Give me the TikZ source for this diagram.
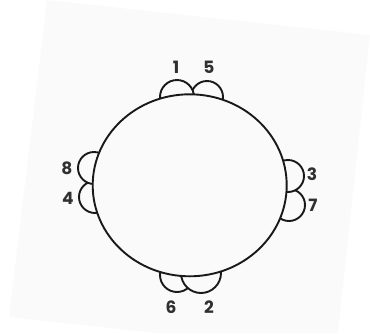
\documentclass[tikz,border=0pt]{standalone}
\usepackage{fontspec}
\setmainfont{Poppins}
\usepackage{tikz}
\usetikzlibrary{positioning, shapes.geometric}
\definecolor{paper}{RGB}{250,250,250}
\definecolor{ink}{RGB}{25,25,25}

\begin{document}
\begin{tikzpicture}[x=1pt, y=-1pt,
			lobe/.style={circle, draw=ink, fill=paper, line width=1.9pt, inner sep=0pt},
			wheel/.style={ellipse, draw=ink, fill=paper, line width=1.9pt, inner sep=0pt, minimum width=194pt, minimum height=182pt},
			num/.style={font=\fontsize{17}{19}\selectfont\bfseries, text=ink!90, inner sep=0pt},
			]
			\useasboundingbox (0,0) rectangle (370,333);
			% scanned sheet
			\fill[paper] (47,0) -- (370,35) -- (338,333) -- (155,333) -- (9,317) -- cycle;
			% lobes behind
			\node[lobe, minimum size=32pt] (lobe5) at (207,97) {};
			\node[lobe, minimum size=32pt] (lobe4) at (95,197) {};
			\node[lobe, minimum size=32pt] (lobe7) at (289,205) {};
			\node[lobe, minimum size=34pt] (lobe6) at (177,275) {};
			% lobes in front
			\node[lobe, minimum size=34pt] (lobe1) at (177,97) {};
			\node[lobe, minimum size=32pt] (lobe8) at (94,168) {};
			\node[lobe, minimum size=32pt] (lobe3) at (288,176) {};
			\node[lobe, minimum size=40pt] (lobe2) at (201,273) {};
			% the round table
			\node[wheel] (wheel) at (189.7,185.3) {};
			% numbers
			\node[num] (n1) at (176,67) {1};
			\node[num] (n5) at (209,67) {5};
			\node[num] (n8) at (67,168) {8};
			\node[num] (n4) at (68,198) {4};
			\node[num] (n3) at (312,174) {3};
			\node[num] (n7) at (313,205) {7};
			\node[num] (n6) at (171,307) {6};
			\node[num] (n2) at (209,307) {2};
		\end{tikzpicture}
\end{document}
